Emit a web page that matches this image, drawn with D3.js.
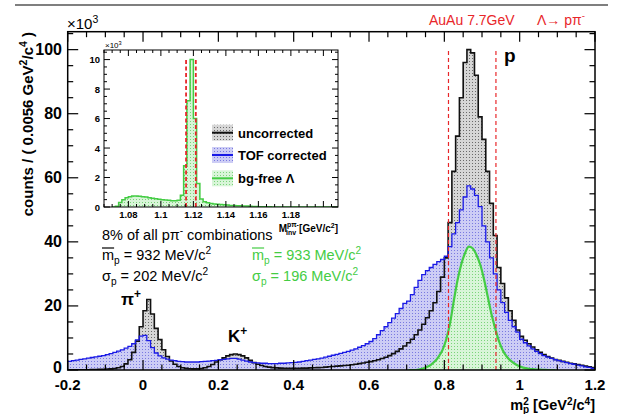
<!DOCTYPE html>
<html><head><meta charset="utf-8">
<script src="https://cdn.jsdelivr.net/npm/d3@7"></script>
<style>
body{margin:0;background:#fff}
svg{display:block;font-family:"Liberation Sans",Arial,Helvetica,sans-serif}
</style></head>
<body><svg id="c" width="621" height="414"></svg>
<script>
// ---------------- data (values in units of 10^3 counts) ----------------
const mainBinStart = -0.2;
const mainBinWidth = 0.01;
const uncorrected = [
  0.1,0.1,0.1,0.1,0.1,0.1,0.12,0.15,0.2,0.25,
  0.3,0.35,0.45,0.7,1.1,1.9,3.2,5.5,9.0,13.5,
  18.5,22,17.5,13,9.5,6.3,4.2,2.8,1.8,1.1,
  0.7,0.5,0.4,0.35,0.35,0.45,0.7,1.1,1.7,2.5,
  3.2,3.8,4.4,4.8,5.0,4.8,4.4,3.8,3.0,2.3,
  1.8,1.4,1.1,0.9,0.75,0.65,0.6,0.55,0.55,0.55,
  0.55,0.55,0.6,0.6,0.65,0.7,0.75,0.8,0.9,1.0,
  1.1,1.2,1.3,1.4,1.5,1.65,1.8,2.0,2.2,2.4,
  2.6,2.9,3.2,3.6,4.0,4.5,5.1,5.8,6.6,7.5,
  8.5,9.6,11.0,12.5,14.3,16.3,18.5,21,24.5,29,
  35,46,62,73,85,96,100,99,92,79,
  72,62,52,42,32,27,22.5,18.5,15.5,12.5,
  10.5,9.3,8.2,7.2,6.3,5.5,4.8,4.2,3.7,3.3,
  3.0,2.7,2.4,2.1,1.9,1.7,1.5,1.2,1.0,0.8
];
const tofCorrected = [
  2.7,2.9,3.1,3.3,3.5,3.7,3.9,4.1,4.3,4.5,
  4.8,5.1,5.5,5.9,6.3,6.8,7.4,8.2,9.4,10.6,
  10.8,9.2,7.0,5.3,4.4,3.8,3.4,3.1,2.9,2.7,
  2.6,2.5,2.5,2.5,2.5,2.6,2.7,2.8,2.9,3.0,
  3.2,3.3,3.5,3.6,3.6,3.4,3.1,2.8,2.5,2.3,
  2.2,2.1,2.1,2.0,2.0,2.0,2.1,2.1,2.2,2.3,
  2.4,2.5,2.7,2.9,3.1,3.3,3.5,3.7,4.0,4.3,
  4.6,4.9,5.2,5.5,5.8,6.2,6.6,7.1,7.6,8.2,
  8.9,9.8,11.0,12.3,13.5,14.8,16.2,17.6,19.2,20.8,
  21.5,23.5,25.8,28,29.8,31,32,33,33.8,34.5,
  35.5,38.5,42.5,46,50,54,57.5,56.5,54.5,51,
  45,40,35,30,25,21,18,15.5,13.5,11.8,
  9.6,8.5,7.5,6.6,5.8,5.1,4.5,4.0,3.6,3.2,
  2.9,2.6,2.3,2.0,1.8,1.5,1.3,1.0,0.8,0.5
];
const bgFreeStart = 0.70;
const bgFree = [
  0,0,0,0.2,0.5,1.0,1.7,2.7,4.2,6.2,
  9.5,14.5,21.5,28,33,36.5,38.5,38,36,33,
  28.5,23,17.5,13,9,6.2,4.3,3.0,2.1,1.4,
  0.9,0.6,0.4,0.25,0.15,0.1,0.05,0,0,0
];
const cutLines = [0.811, 0.937];

const insetBinStart = 1.07;
const insetBinWidth = 0.002;
const insetMinv = [
  0,0.05,0.3,0.5,0.62,0.7,0.74,0.75,0.73,0.70,
  0.67,0.63,0.6,0.56,0.53,0.5,0.47,0.45,0.43,0.42,
  0.45,0.8,2.8,7.2,10.0,6.0,1.6,0.55,0.35,0.28,
  0.24,0.21,0.19,0.17,0.15,0.13,0.11,0.1,0.09,0.08,
  0.07,0.06,0.05,0.04,0.03,0.02,0.02,0.01,0.01,0,
  0,0,0,0,0,0,0,0,0,0,
  0,0,0,0,0,0,0,0,0,0
];
const insetCutLines = [1.1155, 1.1215];

const xTickLabels = ["-0.2","0","0.2","0.4","0.6","0.8","1","1.2"];
const yTickLabels = ["0","20","40","60","80","100"];
const insetXTickLabels = ["1.08","1.1","1.12","1.14","1.16","1.18"];
const insetYTickLabels = ["0","2","4","6","8","10"];
const legendLabels = ["uncorrected","TOF corrected","bg-free \u039b"];

// ---------------- layout ----------------
const svg = d3.select("#c");
const F = {l:67.7, r:595, t:31.7, b:370};
const x = d3.scaleLinear().domain([-0.2,1.2]).range([F.l,F.r]);
const y = d3.scaleLinear().domain([0,105.6]).range([F.b,F.t]);
const I = {l:104, r:338, t:50, b:207};
const xi = d3.scaleLinear().domain([1.065,1.209]).range([I.l,I.r]);
const yi = d3.scaleLinear().domain([0,10.65]).range([I.b,I.t]);

const RED="#e8262a", BLUE="#1a1ae6", GREEN="#44cc44";

// patterns
const defs = svg.append("defs");
function pat(id,bg,dot){
  const p = defs.append("pattern").attr("id",id).attr("patternUnits","userSpaceOnUse")
    .attr("width",3).attr("height",3);
  p.append("rect").attr("width",3).attr("height",3).attr("fill",bg);
  p.append("rect").attr("x",1).attr("y",1).attr("width",1).attr("height",1).attr("fill",dot);
}
pat("pk","#d6d6d6","#6a6a6a");
pat("pb","#cdcdf5","#7a7ae0");
pat("pg","#d8f5d8","#7ad47a");
defs.append("clipPath").attr("id","clipM").append("rect")
  .attr("x",F.l).attr("y",F.t).attr("width",F.r-F.l).attr("height",F.b-F.t);
defs.append("clipPath").attr("id","clipI").append("rect")
  .attr("x",I.l).attr("y",I.t).attr("width",I.r-I.l).attr("height",I.b-I.t);

function steps(vals,start,w){
  const pts = vals.map((v,i)=>({x:start+i*w, v}));
  pts.push({x:start+vals.length*w, v:vals[vals.length-1]});
  return pts;
}
function centers(vals,start,w){ return vals.map((v,i)=>({x:start+(i+0.5)*w, v})); }

// top rule
svg.append("line").attr("x1",15).attr("x2",608).attr("y1",5).attr("y2",5)
  .attr("stroke","#555").attr("stroke-width",1.5);

// ---------------- main plot ----------------
const gM = svg.append("g").attr("clip-path","url(#clipM)");
const areaS = (sx,sy)=>d3.area().curve(d3.curveStepAfter).x(d=>sx(d.x)).y0(sy(0)).y1(d=>sy(d.v));
const lineS = (sx,sy)=>d3.line().curve(d3.curveStepAfter).x(d=>sx(d.x)).y(d=>sy(d.v));
const blackD = steps(uncorrected,mainBinStart,mainBinWidth);
const blueD = steps(tofCorrected,mainBinStart,mainBinWidth);
const greenD = centers(bgFree,bgFreeStart,mainBinWidth);
const areaSmooth = d3.area().curve(d3.curveMonotoneX).x(d=>x(d.x)).y0(y(0)).y1(d=>y(d.v));
const lineSmooth = d3.line().curve(d3.curveMonotoneX).x(d=>x(d.x)).y(d=>y(d.v));

gM.append("path").attr("d",areaS(x,y)(blackD)).attr("fill","url(#pk)");
gM.append("path").attr("d",areaS(x,y)(blueD)).attr("fill","url(#pb)");
gM.append("path").attr("d",areaSmooth(greenD)).attr("fill","url(#pg)");
gM.append("path").attr("d",lineS(x,y)(blackD)).attr("fill","none").attr("stroke","#111").attr("stroke-width",1.6);
gM.append("path").attr("d",lineS(x,y)(blueD)).attr("fill","none").attr("stroke",BLUE).attr("stroke-width",1.3);
gM.append("path").attr("d",lineSmooth(greenD)).attr("fill","none").attr("stroke",GREEN).attr("stroke-width",2.2);
cutLines.forEach(c=>{
  gM.append("line").attr("x1",x(c)).attr("x2",x(c)).attr("y1",y(0)).attr("y2",y(100.5))
    .attr("stroke",RED).attr("stroke-width",1.2).attr("stroke-dasharray","4,3");
});

// frame + ticks
svg.append("rect").attr("x",F.l).attr("y",F.t).attr("width",F.r-F.l).attr("height",F.b-F.t)
  .attr("fill","none").attr("stroke","#000").attr("stroke-width",1.5);
const tk = svg.append("g").attr("stroke","#000").attr("stroke-width",1.2);
d3.range(-0.2,1.2001,0.05).forEach((v,i)=>{
  const major = i%4===0, L = major?10:5.5;
  tk.append("line").attr("x1",x(v)).attr("x2",x(v)).attr("y1",F.b).attr("y2",F.b-L);
  tk.append("line").attr("x1",x(v)).attr("x2",x(v)).attr("y1",F.t).attr("y2",F.t+L);
});
d3.range(0,105.01,5).forEach((v,i)=>{
  const major = i%4===0, L = major?10.5:5.5;
  tk.append("line").attr("x1",F.l).attr("x2",F.l+L).attr("y1",y(v)).attr("y2",y(v));
  tk.append("line").attr("x1",F.r).attr("x2",F.r-L).attr("y1",y(v)).attr("y2",y(v));
});
const xMajor = d3.range(-0.2,1.2001,0.2);
svg.append("g").selectAll("text").data(xTickLabels).join("text")
  .attr("x",(d,i)=>x(xMajor[i])).attr("y",390).attr("text-anchor","middle")
  .attr("font-size",15).attr("font-weight","bold").text(d=>d);
svg.append("g").selectAll("text").data(yTickLabels).join("text")
  .attr("x",62).attr("y",(d,i)=>y(i*20)+(i===0?2.5:5.2)).attr("text-anchor","end")
  .attr("font-size",16).attr("font-weight","bold").text(d=>d);

function rich(t, parts, fs){
  let off = 0;
  parts.forEach(([s,k])=>{
    const target = k==="sup" ? -0.4*fs : k==="sub" ? 0.28*fs : 0;
    const ts = t.append("tspan").text(s).attr("dy", target-off);
    if(k) ts.attr("font-size", fs*0.7);
    off = target;
  });
  return t;
}
// x10^3
rich(svg.append("text").attr("x",67).attr("y",29).attr("font-size",15),
  [["\u00d710",null],["3","sup"]],15);
// y title
rich(svg.append("text").attr("transform","translate(33,32) rotate(-90)").attr("text-anchor","end")
  .attr("font-size",15).attr("font-weight","bold"),
  [["counts / ( 0.0056 GeV",null],["2","sup"],["/c",null],["4","sup"],[" )",null]],15);
// x title: m_p^2 [GeV^2/c^4]
{
  const t = svg.append("text").attr("x",595).attr("y",409.5).attr("text-anchor","end")
    .attr("font-size",14.5).attr("font-weight","bold");
  t.append("tspan").text("m");
  t.append("tspan").attr("font-size",10).attr("dy",-4.5).text("2");
  t.append("tspan").attr("font-size",10).attr("dy",7.5).attr("dx",-5.8).text("p");
  t.append("tspan").attr("dy",-3).text(" [GeV");
  t.append("tspan").attr("font-size",10).attr("dy",-4.5).text("2");
  t.append("tspan").attr("dy",4.5).text("/c");
  t.append("tspan").attr("font-size",10).attr("dy",-4.5).text("4");
  t.append("tspan").attr("dy",4.5).text("]");
}

// top labels
svg.append("text").attr("x",429).attr("y",25).attr("font-size",14).attr("fill",RED).text("AuAu 7.7GeV");
rich(svg.append("text").attr("x",537).attr("y",25).attr("font-size",14).attr("fill",RED),
  [["\u039b\u2192 p\u03c0",null],["-","sup"]],14);
svg.append("text").attr("x",504).attr("y",62).attr("font-size",19).attr("font-weight","bold").text("p");
rich(svg.append("text").attr("x",121).attr("y",305).attr("font-size",17).attr("font-weight","bold"),
  [["\u03c0",null],["+","sup"]],17);
rich(svg.append("text").attr("x",228).attr("y",342).attr("font-size",17).attr("font-weight","bold"),
  [["K",null],["+","sup"]],17);

// annotations
rich(svg.append("text").attr("x",102).attr("y",240).attr("font-size",14.5),
  [["8% of all p\u03c0",null],["-","sup"],[" combinations",null]],14.5);
function meanSigma(x0,y0,sym,val,color,over){
  const t = svg.append("text").attr("x",x0).attr("y",y0).attr("font-size",14.5).attr("fill",color);
  rich(t,[[sym,null],["p","sub"],[" = "+val+"  MeV/c",null],["2","sup"]],14.5);
  if(over){
    const w = t.node().getSubStringLength(0,1);
    svg.append("line").attr("x1",x0).attr("x2",x0+w).attr("y1",y0-12).attr("y2",y0-12)
      .attr("stroke",color).attr("stroke-width",1.2);
  }
}
meanSigma(102,260,"m","932","#000",true);
meanSigma(102,281,"\u03c3","202","#000",false);
meanSigma(252,260,"m","933",GREEN,true);
meanSigma(252,281,"\u03c3","196",GREEN,false);

// ---------------- inset ----------------
svg.append("rect").attr("x",I.l).attr("y",I.t).attr("width",I.r-I.l).attr("height",I.b-I.t).attr("fill","#fff");
const gI = svg.append("g").attr("clip-path","url(#clipI)");
const insD = steps(insetMinv,insetBinStart,insetBinWidth);
gI.append("path").attr("d",areaS(xi,yi)(insD)).attr("fill","url(#pg)");
gI.append("path").attr("d",lineS(xi,yi)(insD)).attr("fill","none").attr("stroke",GREEN).attr("stroke-width",1.5);
insetCutLines.forEach(c=>{
  gI.append("line").attr("x1",xi(c)).attr("x2",xi(c)).attr("y1",yi(0)).attr("y2",yi(10.1))
    .attr("stroke",RED).attr("stroke-width",1.8).attr("stroke-dasharray","4,2.5");
});
svg.append("rect").attr("x",I.l).attr("y",I.t).attr("width",I.r-I.l).attr("height",I.b-I.t)
  .attr("fill","none").attr("stroke","#000").attr("stroke-width",1);
const tki = svg.append("g").attr("stroke","#000").attr("stroke-width",1);
d3.range(1.065,1.2091,0.005).forEach(v=>{
  const major = Math.abs(Math.round(v*50)-v*50)<1e-6, L = major?6:3;
  tki.append("line").attr("x1",xi(v)).attr("x2",xi(v)).attr("y1",I.b).attr("y2",I.b-L);
  tki.append("line").attr("x1",xi(v)).attr("x2",xi(v)).attr("y1",I.t).attr("y2",I.t+L);
});
d3.range(0,10.51,0.5).forEach((v,i)=>{
  const major = i%4===0, L = major?6:3;
  tki.append("line").attr("x1",I.l).attr("x2",I.l+L).attr("y1",yi(v)).attr("y2",yi(v));
  tki.append("line").attr("x1",I.r).attr("x2",I.r-L).attr("y1",yi(v)).attr("y2",yi(v));
});
svg.append("g").selectAll("text").data(insetXTickLabels).join("text")
  .attr("x",(d,i)=>xi(1.08+0.02*i)).attr("y",I.b+11).attr("text-anchor","middle")
  .attr("font-size",9.5).attr("font-weight","bold").text(d=>d);
svg.append("g").selectAll("text").data(insetYTickLabels).join("text")
  .attr("x",I.l-4).attr("y",(d,i)=>yi(i*2)+3.5).attr("text-anchor","end")
  .attr("font-size",9.5).attr("font-weight","bold").text(d=>d);
rich(svg.append("text").attr("x",I.l+1).attr("y",I.t-2).attr("font-size",8),
  [["\u00d710",null],["3","sup"]],8);
{
  const t = svg.append("text").attr("x",I.r).attr("y",I.b+25).attr("text-anchor","end")
    .attr("font-size",10).attr("font-weight","bold");
  t.append("tspan").text("M");
  t.append("tspan").attr("font-size",7).attr("dy",-5).text("p\u03c0-");
  t.append("tspan").attr("font-size",7).attr("dy",8).attr("dx",-13).text("inv");
  t.append("tspan").attr("dy",-3).attr("dx",3).text("[GeV/c");
  t.append("tspan").attr("font-size",7).attr("dy",-4).text("2");
  t.append("tspan").attr("dy",4).text("]");
}

// legend
const legFill = ["url(#pk)","url(#pb)","url(#pg)"];
const legLine = ["#111",BLUE,GREEN];
const legY = [132.7,155,178.3];
legendLabels.forEach((lab,i)=>{
  svg.append("rect").attr("x",212).attr("y",legY[i]-8).attr("width",21).attr("height",16).attr("fill",legFill[i]);
  svg.append("line").attr("x1",212).attr("x2",233).attr("y1",legY[i]).attr("y2",legY[i])
    .attr("stroke",legLine[i]).attr("stroke-width",2);
  svg.append("text").attr("x",238).attr("y",legY[i]+4.8).attr("font-size",13)
    .attr("font-weight","bold").text(lab);
});
</script></body></html>
